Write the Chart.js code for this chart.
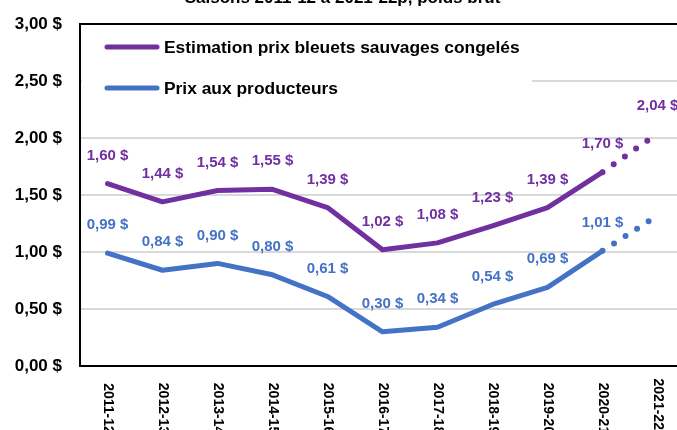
<!DOCTYPE html>
<html><head><meta charset="utf-8">
<script src="https://cdn.jsdelivr.net/npm/chart.js@4/dist/chart.umd.min.js"></script>
<style>
html,body{margin:0;padding:0;width:677px;height:430px;overflow:hidden;background:#fff;}
#wrap{position:absolute;left:0;top:-20px;width:700px;height:450px;}
</style></head><body>
<div id="wrap"><canvas id="c" width="700" height="450"></canvas></div>
<script>
const titleText = 'Saisons 2011-12 à 2021-22p, poids brut';
const categories = ['2011-12','2012-13','2013-14','2014-15','2015-16','2016-17','2017-18','2018-19','2019-20','2020-21','2021-22p'];
const seriesNames = ['Estimation prix bleuets sauvages congelés','Prix aux producteurs'];
const congeles = [1.60,1.44,1.54,1.55,1.39,1.02,1.08,1.23,1.39,1.70,2.04];
const producteurs = [0.99,0.84,0.90,0.80,0.61,0.30,0.34,0.54,0.69,1.01,1.32];
const labeledCount = [11, 10];
const seriesColors = ['#7030A0','#4472C4'];
const yMin = 0, yMax = 3, yStep = 0.5;

const OFF = 20; // canvas is shifted up by this many px
const FONT = '"Liberation Sans", Arial, sans-serif';
const fmt = v => v.toFixed(2).replace('.', ',') + ' $';

const legendPlugin = {
  id: 'inlineLegend',
  beforeDatasetsDraw(chart) {
    const ctx = chart.ctx, ca = chart.chartArea;
    ctx.save();
    ctx.fillStyle = '#fff';
    ctx.fillRect(ca.left + 2, 28 + OFF, 532 - ca.left - 2, 82);
    const rows = [47, 88];
    chart.data.datasets.forEach((ds, i) => {
      const y = rows[i] + OFF;
      ctx.strokeStyle = ds.borderColor;
      ctx.lineWidth = 5;
      ctx.lineCap = 'round';
      ctx.beginPath();
      ctx.moveTo(107, y); ctx.lineTo(157, y);
      ctx.stroke();
      ctx.fillStyle = '#000';
      ctx.font = 'bold 17.4px ' + FONT;
      ctx.textAlign = 'left';
      ctx.textBaseline = 'middle';
      ctx.fillText(ds.label, 164, y + 1);
    });
    ctx.restore();
  }
};

const dataLabelPlugin = {
  id: 'dataLabels',
  afterDatasetsDraw(chart) {
    const ctx = chart.ctx;
    ctx.save();
    ctx.font = 'bold 15px ' + FONT;
    ctx.textAlign = 'center';
    ctx.textBaseline = 'middle';
    chart.data.datasets.forEach((ds, i) => {
      const meta = chart.getDatasetMeta(i);
      ctx.fillStyle = ds.borderColor;
      meta.data.forEach((pt, j) => {
        if (j >= labeledCount[i]) return;
        ctx.fillText(fmt(ds.data[j]), pt.x, pt.y - 28);
      });
    });
    ctx.restore();
  }
};

const xLabelPlugin = {
  id: 'xLabels',
  afterDraw(chart) {
    const ctx = chart.ctx, xs = chart.scales.x;
    ctx.save();
    ctx.font = 'bold 14px ' + FONT;
    ctx.fillStyle = '#000';
    ctx.textAlign = 'center';
    ctx.textBaseline = 'middle';
    categories.forEach((c, i) => {
      ctx.save();
      ctx.translate(xs.getPixelForValue(i), 408.5 + OFF);
      ctx.rotate(Math.PI / 2);
      ctx.fillText(c, 0, 0);
      ctx.restore();
    });
    ctx.restore();
  }
};

const lastIdx = categories.length - 1;
const mkDs = (label, data, color) => ({
  label, data,
  borderColor: color, backgroundColor: color,
  borderWidth: 5, pointRadius: 0, pointHoverRadius: 0,
  tension: 0, borderCapStyle: 'round', borderJoinStyle: 'round',
  segment: {
    borderDash: c => c.p1DataIndex === lastIdx ? [0, 13.7] : undefined,
    borderWidth: c => c.p1DataIndex === lastIdx ? 6 : 5
  }
});

new Chart(document.getElementById('c'), {
  type: 'line',
  data: {
    labels: categories,
    datasets: [mkDs(seriesNames[0], congeles, seriesColors[0]), mkDs(seriesNames[1], producteurs, seriesColors[1])]
  },
  options: {
    responsive: false, animation: false, devicePixelRatio: 1,
    layout: { padding: { left: 0, right: 15, top: 0, bottom: 64 } },
    plugins: {
      legend: { display: false }, tooltip: { enabled: false },
      title: { display: true, text: titleText, color: '#000',
        font: { family: FONT, size: 17, weight: 'bold' },
        padding: { top: 8, bottom: 15.6 } }
    },
    scales: {
      x: {
        offset: true,
        grid: { display: false, drawTicks: false },
        border: { display: true, color: '#000', width: 2 },
        ticks: { display: false }
      },
      y: {
        min: yMin, max: yMax,
        afterFit(s) { s.width = 80; },
        grid: {
          drawTicks: false,
          color: c => c.tick && c.tick.value === yMax ? '#000' : '#d9d9d9',
          lineWidth: 2
        },
        border: { display: true, color: '#000', width: 2 },
        ticks: { stepSize: yStep, padding: 18, color: '#000',
          font: { family: FONT, size: 17, weight: 'bold' },
          callback: v => fmt(v) }
      }
    }
  },
  plugins: [legendPlugin, dataLabelPlugin, xLabelPlugin]
});
</script>
</body></html>
